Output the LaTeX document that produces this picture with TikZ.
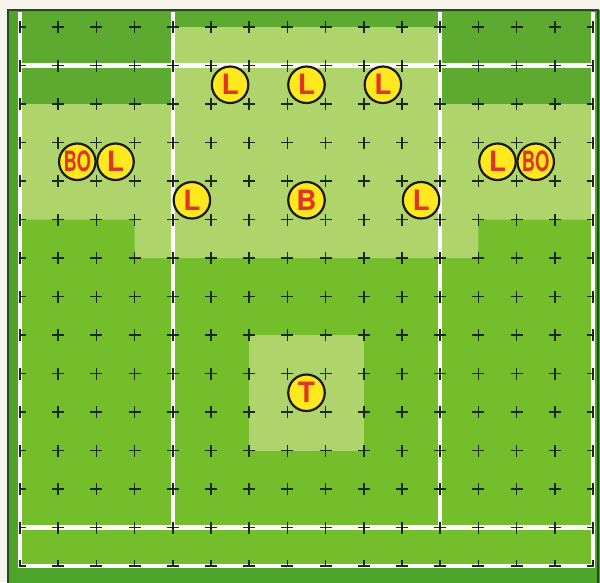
\documentclass[tikz,border=0pt]{standalone}
\usepackage{fontspec}
\usepackage{graphicx}
\setsansfont{TeX Gyre Heros}
\definecolor{paper}{RGB}{246,243,236}
\definecolor{framegreen}{RGB}{36,74,30}
\definecolor{edgegreen}{RGB}{78,164,42}
\definecolor{darkgrass}{RGB}{92,170,48}
\definecolor{grass}{RGB}{116,190,44}
\definecolor{lightgrass}{RGB}{176,212,108}
\definecolor{markred}{RGB}{226,52,36}
\definecolor{markyellow}{RGB}{255,232,30}
\definecolor{crossink}{RGB}{28,40,28}

\begin{document}
\begin{tikzpicture}[x=38.2pt, y=-38.5pt,
  whiteline/.style={white, line width=4.5pt},
  gridcross/.style={crossink, line width=1.5pt},
  player/.style={circle, draw=black!90, line width=2.2pt, fill=markyellow, minimum size=36.5pt, inner sep=0pt, text=markred, font=\fontsize{28}{28}\selectfont\sffamily\bfseries}]
\useasboundingbox (-0.5236,-0.7013) rectangle (15.1832,14.4156);
\fill[paper] (-0.5236,-0.7013) rectangle (15.1832,14.4156);

% frame
\fill[edgegreen] (-0.314,-0.4416) rectangle (15.3,14.5);
\draw[framegreen, line width=2pt] (-0.314,14.5) -- (-0.314,-0.4416) -- (15.13,-0.4416) -- (15.13,14.5);

% pitch
\fill[darkgrass] (0,-0.39) rectangle (15,2);
\fill[grass] (0,2) rectangle (15,14);
\fill[lightgrass] (4,0) -- (11,0) -- (11,2) -- (15,2) -- (15,5) -- (12,5) -- (12,6)
  -- (3,6) -- (3,5) -- (0,5) -- (0,2) -- (4,2) -- cycle;
\fill[lightgrass] (6,8) rectangle (9,11);

% lines
\draw[whiteline, line join=miter] (0,-0.39) -- (0,14) -- (15,14) -- (15,-0.39);
\draw[whiteline] (0,1) -- (15,1);
\draw[whiteline] (0,13) -- (15,13);
\draw[whiteline] (4,-0.39) -- (4,13);
\draw[whiteline] (11,-0.39) -- (11,13);

% grid marks
\begin{scope}
\clip (-0.02,-0.5) rectangle (15.02,14.02);
\foreach \c in {0,...,15}
  \foreach \r in {0,...,14}
    \draw[gridcross] (\c,\r) +(-6pt,0pt) -- +(6pt,0pt) (\c,\r) +(0pt,-6pt) -- +(0pt,6pt);
\end{scope}

% players
\node[player] (l1) at (5.5,1.5) {L};
\node[player] (l2) at (7.5,1.5) {L};
\node[player] (l3) at (9.5,1.5) {L};
\node[player] (bo1) at (1.5,3.5) {\scalebox{0.66}[1]{BO}};
\node[player] (l4) at (2.5,3.5) {L};
\node[player] (l5) at (12.5,3.5) {L};
\node[player] (bo2) at (13.5,3.5) {\scalebox{0.66}[1]{BO}};
\node[player] (l6) at (4.5,4.5) {L};
\node[player] (b) at (7.5,4.5) {B};
\node[player] (l7) at (10.5,4.5) {L};
\node[player] (t) at (7.5,9.5) {T};
\end{tikzpicture}
\end{document}
